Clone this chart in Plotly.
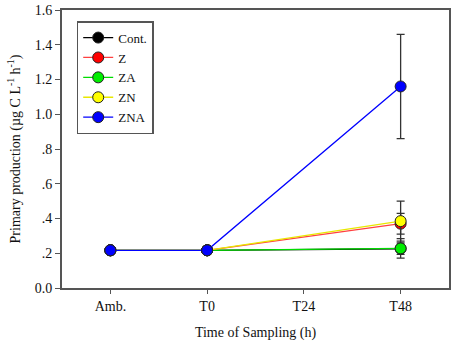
import plotly.graph_objects as go

categories = ["Amb.", "T0", "T24", "T48"]
series_names = ["Cont.", "Z", "ZA", "ZN", "ZNA"]
colors = ["#000000", "#ff0000", "#00ee00", "#ffff00", "#0000ff"]
line_colors = ["#000000", "#ff4040", "#00dd00", "#e8e800", "#0000ff"]
# values at Amb., T0, T24 (no sample), T48
cont = [0.217, 0.217, None, 0.226]
z = [0.217, 0.217, None, 0.370]
za = [0.217, 0.217, None, 0.228]
zn = [0.217, 0.217, None, 0.385]
zna = [0.217, 0.217, None, 1.160]
err_cont = [0, 0, 0, 0.033]
err_z = [0, 0, 0, 0.060]
err_za = [0, 0, 0, 0.056]
err_zn = [0, 0, 0, 0.115]
err_zna = [0, 0, 0, 0.300]
y_ticks = [0, 0.2, 0.4, 0.6, 0.8, 1.0, 1.2, 1.4, 1.6]
y_tick_text = ["0.0", ".2", ".4", ".6", ".8", "1.0", "1.2", "1.4", "1.6"]

values = [cont, z, za, zn, zna]
errs = [err_cont, err_z, err_za, err_zn, err_zna]

fig = go.Figure()
xs = list(range(len(categories)))
for name, v, e, c, lc in zip(series_names, values, errs, colors, line_colors):
    fig.add_trace(go.Scatter(
        x=xs, y=v, name=name, mode="lines+markers", connectgaps=True,
        line=dict(color=lc, width=1.3),
        marker=dict(size=11, color=c, line=dict(color="#222222", width=1)),
        error_y=dict(type="data", array=e, visible=True, color="#333333",
                     thickness=1.3, width=4),
    ))

font_family = "Liberation Serif, Times New Roman, serif"
fig.update_layout(
    width=454, height=346,
    margin=dict(l=62, r=3, t=8, b=58),
    paper_bgcolor="white", plot_bgcolor="white",
    font=dict(family=font_family, size=14, color="#111111"),
    showlegend=True,
    legend=dict(x=0.038, y=0.96, xanchor="left", yanchor="top",
                bordercolor="#555555", borderwidth=1.5, bgcolor="white",
                font=dict(family=font_family, size=13),
                tracegroupgap=0, itemwidth=30),
    xaxis=dict(range=[-0.5, 3.5], tickvals=xs, ticktext=categories,
               showline=True, linecolor="#555555", linewidth=2, mirror=True,
               ticks="outside", ticklen=4, tickcolor="#555555",
               showgrid=False, zeroline=False,
               tickfont=dict(size=14),
               title=dict(text="Time of Sampling (h)", standoff=14,
                          font=dict(size=14))),
    yaxis=dict(range=[0, 1.6], tickvals=y_ticks, ticktext=y_tick_text,
               showline=True, linecolor="#555555", linewidth=2, mirror=True,
               ticks="outside", ticklen=5, tickcolor="#555555",
               showgrid=False, zeroline=False,
               tickfont=dict(size=14),
               title=dict(text="Primary production (µg C L<sup>-1</sup> h<sup>-1</sup>)",
                          standoff=11, font=dict(size=14))),
)

fig.write_html("out.html", config={"displayModeBar": False},
               post_script="document.body.style.margin='0';")
